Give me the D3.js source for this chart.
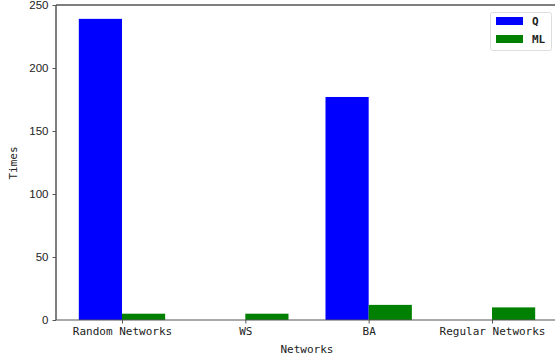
<!DOCTYPE html>
<html>
<head>
<meta charset="utf-8">
<script src="https://cdn.jsdelivr.net/npm/d3@7/dist/d3.min.js"></script>
<style>
  html, body { margin: 0; padding: 0; background: #fff; }
  svg { display: block; }
</style>
</head>
<body>
<svg id="chart" width="555" height="360"></svg>
<script>
// Number of times per network type, two methods side by side
const networks = ["Random Networks", "WS", "BA", "Regular Networks"];
const qTimes = [239, 0, 177, 0];
const mlTimes = [5, 5, 12, 10];
const seriesNames = ["Q", "ML"];
const seriesColors = ["#0000ff", "#008000"];
const yTicks = [0, 50, 100, 150, 200, 250];

const svg = d3.select("#chart");
const margin = { left: 56, top: 5 };
const plotW = 558 - margin.left;
const plotH = 320 - margin.top;

const barW = 0.35;
// linear x over category index, padded around the outermost bars
const x = d3.scaleLinear().domain([-0.535, 3.535]).range([margin.left, margin.left + plotW]);
const y = d3.scaleLinear().domain([0, 250]).range([margin.top + plotH, margin.top]);

const g = svg.append("g");

// bars: Q to the left of each tick, ML to the right
const series = [qTimes, mlTimes];
series.forEach((vals, s) => {
  g.selectAll(null)
    .data(vals)
    .enter()
    .append("rect")
    .attr("x", (d, i) => x(i + (s === 0 ? -barW : 0)))
    .attr("width", x(barW) - x(0))
    .attr("y", d => y(d))
    .attr("height", d => y(0) - y(d))
    .attr("fill", seriesColors[s]);
});

// axes
const axisColor = "#555";
const yAxis = d3.axisLeft(y).tickValues(yTicks).tickSize(3.5).tickPadding(4);
const yg = svg.append("g").attr("transform", `translate(${margin.left},0)`).call(yAxis);
yg.select(".domain").remove();
yg.selectAll("line").attr("stroke", axisColor);
yg.selectAll("text")
  .attr("font-family", "Liberation Sans, Arial, sans-serif")
  .attr("font-size", "11.5px")
  .attr("fill", "#222");

const xAxis = d3.axisBottom(x).tickValues(d3.range(networks.length))
  .tickFormat(i => networks[i]).tickSize(3.5).tickPadding(4);
const xg = svg.append("g").attr("transform", `translate(0,${y(0)})`).call(xAxis);
xg.select(".domain").remove();
xg.selectAll("line").attr("stroke", axisColor);
xg.selectAll("text")
  .attr("font-family", "DejaVu Sans Mono, monospace")
  .attr("font-size", "11px")
  .attr("fill", "#222");

// spines
svg.append("line").attr("x1", margin.left).attr("x2", margin.left)
  .attr("y1", y(0)).attr("y2", y(250)).attr("stroke", axisColor).attr("stroke-width", 1.5);
svg.append("line").attr("x1", margin.left).attr("x2", 560)
  .attr("y1", y(0)).attr("y2", y(0)).attr("stroke", axisColor).attr("stroke-width", 1.2);
svg.append("line").attr("x1", margin.left).attr("x2", 560)
  .attr("y1", y(250)).attr("y2", y(250)).attr("stroke", axisColor).attr("stroke-width", 1.5);

// axis titles
svg.append("text").attr("x", x(1.5)).attr("y", 353)
  .attr("text-anchor", "middle")
  .attr("font-family", "DejaVu Sans Mono, monospace").attr("font-size", "11px").attr("fill", "#222")
  .text("Networks");
svg.append("text").attr("transform", "translate(17,163) rotate(-90)")
  .attr("text-anchor", "middle")
  .attr("font-family", "DejaVu Sans Mono, monospace").attr("font-size", "11px").attr("fill", "#222")
  .text("Times");

// legend
const lg = svg.append("g").attr("transform", "translate(490,12)");
lg.append("rect").attr("x", 0.5).attr("y", 0.5).attr("width", 61).attr("height", 38)
  .attr("rx", 2).attr("fill", "#fff").attr("stroke", "#ddd");
seriesNames.forEach((name, i) => {
  lg.append("rect").attr("x", 6).attr("y", 5 + i * 18).attr("width", 27).attr("height", 8)
    .attr("fill", seriesColors[i]);
  lg.append("text").attr("x", 42).attr("y", 13 + i * 18)
    .attr("font-family", "DejaVu Sans Mono, monospace").attr("font-size", "11px")
    .attr("font-weight", "bold").attr("fill", "#222")
    .text(name);
});
</script>
</body>
</html>
